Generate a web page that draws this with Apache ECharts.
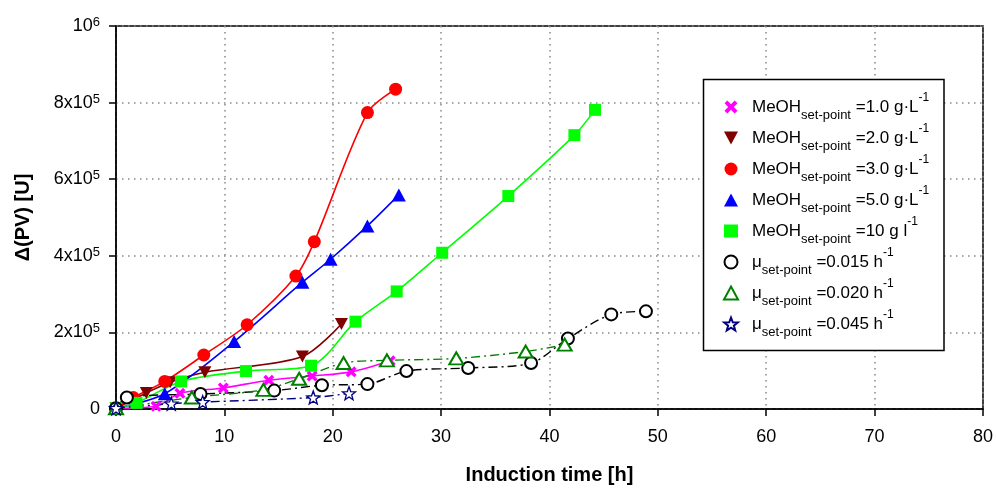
<!DOCTYPE html>
<html>
<head>
<meta charset="utf-8">
<script src="https://cdn.jsdelivr.net/npm/echarts@6/dist/echarts.min.js"></script>
<style>
  html, body { margin: 0; padding: 0; background: #fff; }
  #chart { width: 996px; height: 491px; }
</style>
</head>
<body>
<div id="chart"></div>
<script>
// Induction time [h] and Δ(PV) [U] for each set-point run
const meoh1Time  = [0, 3.7, 5.9, 9.9, 14.1, 18.1, 21.7, 25.3];
const meoh1PV    = [2000, 7000, 41000, 55000, 75000, 86000, 97000, 126000];

const meoh2Time  = [0, 2.8, 5.0, 8.2, 17.2, 20.8];
const meoh2PV    = [2000, 42000, 70000, 96000, 137000, 222000];

const meoh3Time  = [0, 1.6, 4.5, 8.1, 12.1, 16.6, 18.3, 23.2, 25.8];
const meoh3PV    = [2000, 30000, 72000, 141000, 220000, 347000, 437000, 774000, 835000];

const meoh5Time  = [0, 4.5, 10.9, 17.2, 19.8, 23.2, 26.1];
const meoh5PV    = [2000, 40000, 176000, 331000, 391000, 478000, 559000];

const meoh10Time = [0, 1.9, 6.0, 12.0, 18.0, 22.1, 25.9, 30.1, 36.2, 42.3, 44.2];
const meoh10PV   = [2000, 16000, 72000, 99000, 113000, 228000, 307000, 408000, 556000, 715000, 781000];

const mu015Time  = [0, 1.0, 7.8, 14.6, 19.0, 23.2, 26.8, 32.5, 38.3, 41.7, 45.7, 48.9];
const mu015PV    = [2000, 30000, 39000, 48000, 62000, 65000, 99000, 107000, 120000, 184000, 247000, 255000];

const mu020Time  = [0, 7.0, 13.6, 16.9, 21.0, 25.0, 31.4, 37.8, 41.4];
const mu020PV    = [2000, 30000, 50000, 79000, 120000, 127000, 132000, 150000, 168000];

const mu045Time  = [0, 5.1, 8.0, 18.2, 21.5];
const mu045PV    = [2000, 14000, 18000, 30000, 41000];

// Legend label pieces: subject, set-point value, unit base, unit exponent
const seriesSubject = ['MeOH', 'MeOH', 'MeOH', 'MeOH', 'MeOH', 'μ', 'μ', 'μ'];
const seriesValue   = ['=1.0 g·L', '=2.0 g·L', '=3.0 g·L', '=5.0 g·L', '=10 g l', '=0.015 h', '=0.020 h', '=0.045 h'];
const seriesExp     = ['-1', '-1', '-1', '-1', '-1', '-1', '-1', '-1'];
const seriesNames   = seriesSubject.map((s, i) => s + '_set-point ' + seriesValue[i] + '^' + seriesExp[i]);

// Axis ranges
const xMin = 0, xMax = 80, xStep = 10;
const yMin = 0, yMax = 1000000, yStep = 200000;

const zip = (xs, ys) => xs.map((x, i) => [x, ys[i]]);

const SYM_X = 'path://M0,2.2 L2.2,0 L5,2.8 L7.8,0 L10,2.2 L7.2,5 L10,7.8 L7.8,10 L5,7.2 L2.2,10 L0,7.8 L2.8,5 Z';
const SYM_DOWN = 'path://M0,0 L12,0 L6,11 Z';
const SYM_STAR = 'path://M10,0 L12.47,6.6 L19.51,6.91 L13.99,11.3 L15.88,18.09 L10,14.2 L4.12,18.09 L6.01,11.3 L0.49,6.91 L7.53,6.6 Z';
const DASH_DOT = [9, 4, 2, 4];

function lineSeries(idx, xs, ys, opts) {
  return Object.assign({
    name: seriesNames[idx],
    type: 'line',
    data: zip(xs, ys),
    smooth: 0.3,
    showAllSymbol: true,
    z: 2
  }, opts);
}

const series = [
  lineSeries(0, meoh1Time, meoh1PV, {
    symbol: SYM_X, symbolSize: 11,
    itemStyle: { color: '#ff00ff' },
    lineStyle: { color: '#ff00ff', width: 1.6 }
  }),
  lineSeries(1, meoh2Time, meoh2PV, {
    symbol: SYM_DOWN, symbolSize: [13, 12],
    itemStyle: { color: '#800000' },
    lineStyle: { color: '#800000', width: 1.6 }
  }),
  lineSeries(2, meoh3Time, meoh3PV, {
    symbol: 'circle', symbolSize: 13,
    itemStyle: { color: '#ff0000' },
    lineStyle: { color: '#ff0000', width: 1.6 }
  }),
  lineSeries(3, meoh5Time, meoh5PV, {
    symbol: 'triangle', symbolSize: [14, 13],
    itemStyle: { color: '#0000ff' },
    lineStyle: { color: '#0000ff', width: 1.6 }
  }),
  lineSeries(4, meoh10Time, meoh10PV, {
    symbol: 'rect', symbolSize: 12,
    itemStyle: { color: '#00ff00' },
    lineStyle: { color: '#00ff00', width: 1.6 }
  }),
  lineSeries(5, mu015Time, mu015PV, {
    symbol: 'emptyCircle', symbolSize: 12,
    itemStyle: { color: '#000000', borderWidth: 1.3 },
    lineStyle: { color: '#000000', width: 1.4, type: DASH_DOT }
  }),
  lineSeries(6, mu020Time, mu020PV, {
    symbol: 'emptyTriangle', symbolSize: [14, 12],
    itemStyle: { color: '#008000', borderWidth: 1.3 },
    lineStyle: { color: '#008000', width: 1.4, type: DASH_DOT }
  }),
  lineSeries(7, mu045Time, mu045PV, {
    symbol: SYM_STAR, symbolSize: 13,
    itemStyle: { color: '#ffffff', borderColor: '#000080', borderWidth: 1.3 },
    lineStyle: { color: '#000080', width: 1.4, type: DASH_DOT }
  })
];

const legendIcons = [SYM_X, SYM_DOWN, 'circle', 'triangle', 'rect', 'emptyCircle', 'emptyTriangle', SYM_STAR];

function legendLabel(name) {
  const i = seriesNames.indexOf(name);
  return '{m|' + seriesSubject[i] + '}{sub|set-point}{m| ' + seriesValue[i] + '}{sup|' + seriesExp[i] + '}';
}

function yLabel(v) {
  if (v === 0) return '0';
  if (v === 1000000) return '{b|10}{s|6}';
  return '{b|' + (v / 100000) + 'x10}{s|5}';
}

const chart = echarts.init(document.getElementById('chart'), null, { renderer: 'canvas' });

chart.setOption({
  animation: false,
  backgroundColor: '#ffffff',
  textStyle: { fontFamily: 'Liberation Sans, Arial, sans-serif', color: '#000' },
  grid: {
    left: 116, right: 11.5, top: 26, bottom: 82,
    show: true, borderColor: '#000', borderWidth: 1.5, backgroundColor: 'transparent'
  },
  xAxis: {
    type: 'value', min: xMin, max: xMax, interval: xStep,
    name: 'Induction time [h]', nameLocation: 'middle', nameGap: 56,
    nameTextStyle: { fontSize: 20, fontWeight: 'bold', color: '#000', fontFamily: 'Liberation Sans, Arial, sans-serif' },
    axisLine: { show: true, lineStyle: { color: '#000', width: 1.5 } },
    axisTick: { show: true, inside: false, length: 7, lineStyle: { color: '#000', width: 1.5 } },
    axisLabel: { fontSize: 18, color: '#000', margin: 19, fontFamily: 'Liberation Sans, Arial, sans-serif' },
    splitLine: { show: true, lineStyle: { color: '#888', width: 1.5, type: [1.5, 4.5] } }
  },
  yAxis: {
    type: 'value', min: yMin, max: yMax, interval: yStep,
    name: 'Δ(PV) [U]', nameLocation: 'middle', nameGap: 83, nameRotate: 90,
    nameTextStyle: { fontSize: 20, fontWeight: 'bold', color: '#000', fontFamily: 'Liberation Sans, Arial, sans-serif' },
    axisLine: { show: true, lineStyle: { color: '#000', width: 1.5 } },
    axisTick: { show: true, inside: false, length: 7, lineStyle: { color: '#000', width: 1.5 } },
    axisLabel: {
      fontSize: 18, color: '#000', margin: 16, formatter: yLabel,
      fontFamily: 'Liberation Sans, Arial, sans-serif',
      rich: {
        b: { fontSize: 18, lineHeight: 20, verticalAlign: 'middle', color: '#000', fontFamily: 'Liberation Sans, Arial, sans-serif' },
        s: { fontSize: 13, lineHeight: 14, verticalAlign: 'top', color: '#000', fontFamily: 'Liberation Sans, Arial, sans-serif' }
      }
    },
    splitLine: { show: true, lineStyle: { color: '#888', width: 1.5, type: [1.5, 4.5] } }
  },
  graphic: [{
    type: 'rect', z: 3,
    shape: { x: 703.5, y: 79.5, width: 240.5, height: 271 },
    style: { fill: '#ffffff', stroke: '#000', lineWidth: 1.5 }
  }],
  legend: {
    z: 4,
    orient: 'vertical',
    left: 723, top: 92,
    padding: 0,
    itemWidth: 14, itemHeight: 13,
    itemGap: 1,
    selectedMode: false,
    data: seriesNames.map((n, i) => ({ name: n, icon: legendIcons[i] })),
    formatter: legendLabel,
    textStyle: {
      color: '#000', fontSize: 17, padding: [0, 0, 0, 9],
      fontFamily: 'Liberation Sans, Arial, sans-serif',
      rich: {
        m: { fontSize: 17, lineHeight: 30, verticalAlign: 'middle', color: '#000', fontFamily: 'Liberation Sans, Arial, sans-serif' },
        sub: { fontSize: 13, lineHeight: 12, verticalAlign: 'bottom', color: '#000', fontFamily: 'Liberation Sans, Arial, sans-serif' },
        sup: { fontSize: 12, lineHeight: 20, verticalAlign: 'top', color: '#000', fontFamily: 'Liberation Sans, Arial, sans-serif' }
      }
    }
  },
  series: series
});
</script>
</body>
</html>
